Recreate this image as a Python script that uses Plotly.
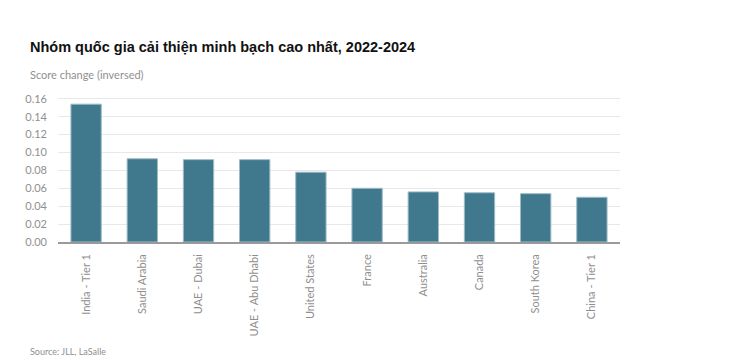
import plotly.graph_objects as go

categories = ["India - Tier 1", "Saudi Arabia", "UAE - Dubai", "UAE - Abu Dhabi", "United States",
              "France", "Australia", "Canada", "South Korea", "China - Tier 1"]
values = [0.154, 0.093, 0.092, 0.092, 0.078, 0.060, 0.056, 0.055, 0.054, 0.050]
tick_vals = [0.00, 0.02, 0.04, 0.06, 0.08, 0.10, 0.12, 0.14, 0.16]
tick_text = ["0.00", "0.02", "0.04", "0.06", "0.08", "0.10", "0.12", "0.14", "0.16"]

fig = go.Figure(go.Bar(
    x=categories, y=values,
    marker=dict(color="#40798d", line=dict(color="#9fbcc6", width=1)),
))

fig.update_layout(
    width=740, height=354,
    margin=dict(l=50, r=128, t=89, b=120),
    paper_bgcolor="white", plot_bgcolor="white",
    bargap=0.46,
    showlegend=False,
    font=dict(family="Lato, Open Sans, sans-serif", color="#8f8f8f", size=11),
    annotations=[
        dict(text="<b>Nhóm quốc gia cải thiện minh bạch cao nhất, 2022-2024</b>",
             xref="paper", yref="paper", x=-0.053, y=1.345, xanchor="left", yanchor="middle",
             showarrow=False, font=dict(family="Liberation Sans, Arial, sans-serif", size=14.5, color="#111111")),
        dict(text="Score change (inversed)",
             xref="paper", yref="paper", x=-0.053, y=1.152, xanchor="left", yanchor="middle",
             showarrow=False, font=dict(family="Lato, sans-serif", size=11, color="#8f8f8f")),
        dict(text="Source: JLL, LaSalle",
             xref="paper", yref="paper", x=-0.053, y=-0.752, xanchor="left", yanchor="middle",
             showarrow=False, font=dict(family="Lato, sans-serif", size=9, color="#8f8f8f")),
    ],
)

fig.update_yaxes(
    range=[0, 0.162], tickvals=tick_vals, ticktext=tick_text,
    showgrid=True, gridcolor="#e8e8e8", gridwidth=1, zeroline=False,
    showline=False, ticks="", ticklabelstandoff=10,
    tickfont=dict(size=11, color="#8f8f8f"),
)
fig.update_xaxes(
    tickangle=-90, showline=True, linecolor="#9a9a9a", linewidth=1.5,
    ticks="", ticklabelstandoff=6, tickfont=dict(size=11, color="#8f8f8f"),
)

fig.write_html("out.html")
